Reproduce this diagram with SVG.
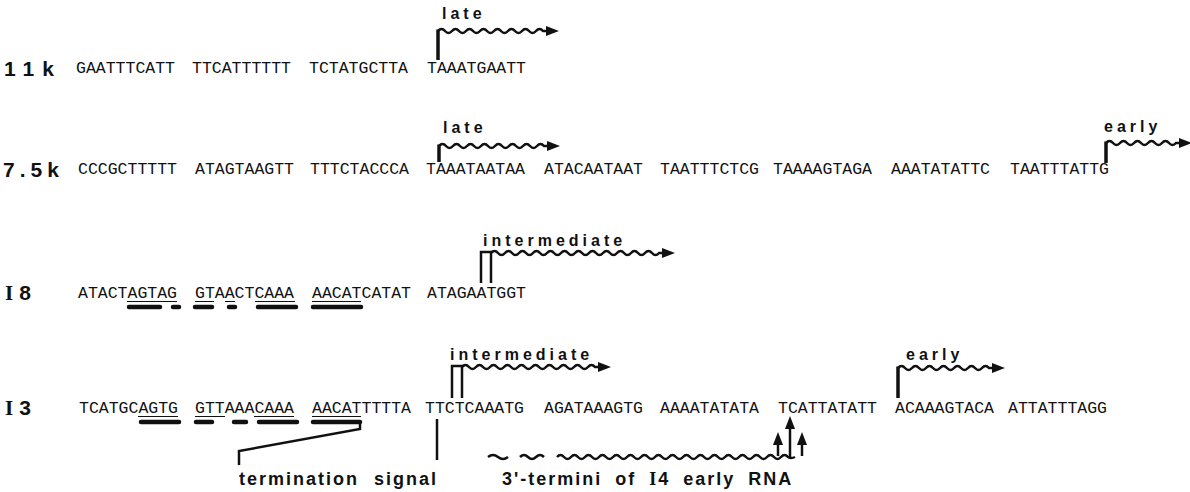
<svg xmlns="http://www.w3.org/2000/svg" width="1190" height="492" viewBox="0 0 1190 492">
<defs>
<style>
.seq{font-family:"Liberation Mono","Courier New",monospace;font-size:16.5px;fill:#111}
.lab{font-family:"Liberation Sans",Arial,sans-serif;font-weight:bold;font-size:21px;fill:#111}
.ser{font-family:"Liberation Serif","Times New Roman",serif;font-weight:bold}
.ann{font-family:"Liberation Sans",Arial,sans-serif;font-weight:bold;font-size:16px;fill:#111;letter-spacing:4px}
.bot{font-family:"Liberation Sans",Arial,sans-serif;font-weight:bold;font-size:18px;fill:#111;letter-spacing:2px}
.wave{fill:none;stroke:#111;stroke-width:2.5}
.bar{fill:none;stroke:#111;stroke-width:3.5}
.thin{fill:none;stroke:#111;stroke-width:1.2}
.dash{fill:none;stroke:#111;stroke-width:4.5;stroke-linecap:round}
.line{fill:none;stroke:#111;stroke-width:2.5}
</style>
<marker id="ah" markerUnits="userSpaceOnUse" markerWidth="14" markerHeight="10" refX="1" refY="5" orient="auto">
<path d="M0,0 L13,5 L0,10 z" fill="#111"/>
</marker>
</defs>
<rect width="1190" height="492" fill="#fff"/>

<g id="row-11k">
<text class="lab" x="4" y="76" letter-spacing="8">11k</text>
<text class="seq" x="76" y="73">GAATTTCATT</text>
<text class="seq" x="192" y="73">TTCATTTTTT</text>
<text class="seq" x="309" y="73">TCTATGCTTA</text>
<text class="seq" x="427" y="73">TAAATGAATT</text>
</g>

<g id="row-7.5k">
<text class="lab" x="3" y="177" font-size="22" letter-spacing="5">7.5k</text>
<text class="seq" x="78" y="174">CCCGCTTTTT</text>
<text class="seq" x="195" y="174">ATAGTAAGTT</text>
<text class="seq" x="310" y="174">TTTCTACCCA</text>
<text class="seq" x="426" y="174">TAAATAATAA</text>
<text class="seq" x="544" y="174">ATACAATAAT</text>
<text class="seq" x="660" y="174">TAATTTCTCG</text>
<text class="seq" x="773" y="174">TAAAAGTAGA</text>
<text class="seq" x="891" y="174">AAATATATTC</text>
<text class="seq" x="1010" y="174">TAATTTATTG</text>
</g>

<g id="row-I8">
<text class="lab" x="5" y="300" letter-spacing="6"><tspan class="ser">I</tspan>8</text>
<text class="seq" x="78" y="298">ATACTAGTAG</text>
<text class="seq" x="195" y="298">GTAACTCAAA</text>
<text class="seq" x="312" y="298">AACATCATAT</text>
<text class="seq" x="427" y="298">ATAGAATGGT</text>
<path class="thin" d="M127,301.5H177M195,301.5H214M225,301.5H235M255,301.5H295M312,301.5H361"/>
<path class="dash" d="M129,307H160M173,307H179M195,307H212M229,307H235M258,307H296M313,307H361"/>
</g>

<g id="row-I3">
<text class="lab" x="5" y="415" letter-spacing="6"><tspan class="ser">I</tspan>3</text>
<text class="seq" x="79" y="413">TCATGCAGTG</text>
<text class="seq" x="195" y="413">GTTAAACAAA</text>
<text class="seq" x="312" y="413">AACATTTTTA</text>
<text class="seq" x="425" y="413">TTCTCAAATG</text>
<text class="seq" x="544" y="413">AGATAAAGTG</text>
<text class="seq" x="660" y="413">AAAATATATA</text>
<text class="seq" x="778" y="413">TCATTATATT</text>
<text class="seq" x="895" y="413">ACAAAGTACA</text>
<text class="seq" x="1008" y="413">ATTATTTAGG</text>
<path class="thin" d="M138,416.5H178M195,416.5H225M254,416.5H294M312,416.5H361"/>
<path class="dash" d="M141,422H179M196,422H212M234,422H246M259,422H297M313,422H360"/>
</g>

<g id="label-late-11k">
<text class="ann" x="442" y="19">late</text>
</g>
<g id="label-late-7.5k">
<text class="ann" x="443" y="133">late</text>
</g>
<g id="label-early-7.5k">
<text class="ann" x="1104" y="132">early</text>
</g>
<g id="label-intermediate-I8">
<text class="ann" x="483" y="246" letter-spacing="5.6">intermediate</text>
</g>
<g id="label-intermediate-I3">
<text class="ann" x="450" y="360" letter-spacing="5.6">intermediate</text>
</g>
<g id="label-early-I3">
<text class="ann" x="906" y="360">early</text>
</g>
<g id="label-termination">
<text class="bot" x="239" y="485" word-spacing="8">termination signal</text>
</g>
<g id="label-termini">
<text class="bot" x="502" y="485" word-spacing="6">3'-termini of <tspan class="ser">I</tspan>4 early RNA</text>
</g>

<g id="connectors">
<path class="bar" d="M438,60V29.5"/>
<path class="wave" marker-end="url(#ah)" d="M438,31q3.5,-4 7,0t7,0t7,0t7,0t7,0t7,0t7,0t7,0t7,0t7,0t7,0t7,0t7,0t7,0t7,0l4,0"/>
<path class="bar" d="M439,162V144.5"/>
<path class="wave" marker-end="url(#ah)" d="M439,146q3.5,-4 7,0t7,0t7,0t7,0t7,0t7,0t7,0t7,0t7,0t7,0t7,0t7,0t7,0t7,0t7,0l4,0"/>
<path class="bar" d="M1106,163V141.5"/>
<path class="wave" marker-end="url(#ah)" d="M1106,143q3.5,-4 7,0t7,0t7,0t7,0t7,0t7,0t7,0t7,0t7,0t7,0l4,0"/>
<path class="line" d="M481,283V252H491V283" stroke-width="3"/>
<path class="wave" marker-end="url(#ah)" d="M491,253q3.5,-4 7,0t7,0t7,0t7,0t7,0t7,0t7,0t7,0t7,0t7,0t7,0t7,0t7,0t7,0t7,0t7,0t7,0t7,0t7,0t7,0t7,0t7,0t7,0t7,0l4,0"/>
<path class="line" d="M452,398V366H462V398" stroke-width="3"/>
<path class="wave" marker-end="url(#ah)" d="M462,367q3.5,-4 7,0t7,0t7,0t7,0t7,0t7,0t7,0t7,0t7,0t7,0t7,0t7,0t7,0t7,0t7,0t7,0t7,0t7,0t7,0l4,0"/>
<path class="bar" d="M898,398V366.5"/>
<path class="wave" marker-end="url(#ah)" d="M898,368q3.5,-4 7,0t7,0t7,0t7,0t7,0t7,0t7,0t7,0t7,0t7,0t7,0t7,0t7,0l4,0"/>
<path class="line" d="M360,422V429L239,451V465"/>
<path class="line" d="M437,419V460"/>
<path class="wave" d="M488,457q5,-4 10,0t10,0M520,457q4,-4 8,0t8,0t8,0M557,457q3.5,-4 7,0t7,0t7,0t7,0t7,0t7,0t7,0t7,0t7,0t7,0t7,0t7,0t7,0t7,0t7,0t7,0t7,0t7,0t7,0t7,0t7,0t7,0t7,0t7,0t7,0t7,0t7,0t7,0t7,0t7,0t7,0t7,0t7,0q3,2 7,0"/>
<path class="line" marker-end="url(#ah)" d="M778,456V444"/>
<path class="line" marker-end="url(#ah)" d="M790,457V428"/>
<path class="line" marker-end="url(#ah)" d="M802,456V444"/>
</g>
</svg>
